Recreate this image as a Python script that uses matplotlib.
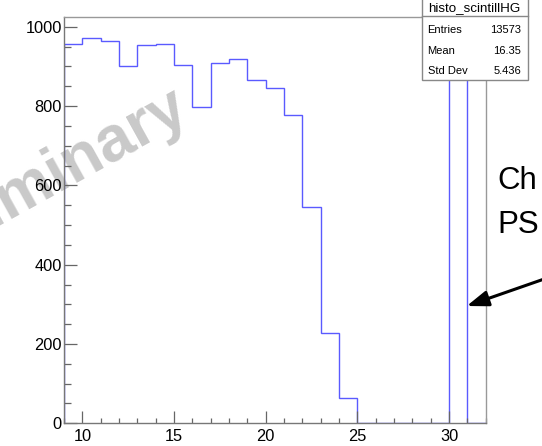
import numpy as np
import matplotlib.pyplot as plt
from matplotlib.patches import Rectangle, FancyArrowPatch
from matplotlib.ticker import MultipleLocator

plt.rcParams['font.family'] = ['Liberation Sans', 'DejaVu Sans']

# histogram contents (bin width 1, from 9 to 32)
bin_edges = np.arange(9, 33)
counts = [957, 972, 965, 901, 954, 957, 903, 798, 908, 920, 865, 846,
          777, 546, 227, 64, 0, 0, 0, 0, 0, 990, 0]

hist_name = "histo_scintillHG"
stats_labels = ["Entries", "Mean", "Std Dev"]
stats_values = ["13573", "16.35", "5.436"]

W, H = 542, 446
fig = plt.figure(figsize=(W / 100, H / 100), dpi=100)
fig.patch.set_facecolor('white')

def px(x, y):
    # pixel position (from top-left) -> figure fraction
    return x / W, 1 - y / H

# watermark behind everything
wx, wy = px(192, 117)
fig.text(wx, wy, "Preliminary", fontsize=46, fontweight='bold', color='#c9c9c9',
         rotation=29, rotation_mode='anchor', ha='right', va='baseline', zorder=-5)

x0, y0 = px(64, 423.3)
x1, y1 = px(485.8, 17.3)
ax = fig.add_axes([x0, y0, x1 - x0, y1 - y0])
ax.set_facecolor('none')

ax.stairs(counts, bin_edges, baseline=0, color='#5a5aff', linewidth=1.0)

ax.set_xlim(9, 32)
ax.set_ylim(0, 1024)
ax.xaxis.set_major_locator(MultipleLocator(5))
ax.xaxis.set_minor_locator(MultipleLocator(1))
ax.yaxis.set_major_locator(MultipleLocator(200))
ax.yaxis.set_minor_locator(MultipleLocator(50))

for s in ax.spines.values():
    s.set_color('#999999')
    s.set_linewidth(1.0)
ax.spines['left'].set_color('#777777')
ax.spines['bottom'].set_color('#777777')

ax.tick_params(axis='both', which='both', direction='in', colors='#666666',
               labelcolor='black', labelsize=11.8, width=0.9)
ax.tick_params(axis='y', which='major', length=9.6, pad=1.5)
ax.tick_params(axis='y', which='minor', length=5.0)
ax.tick_params(axis='x', which='major', length=8.4, pad=4)
ax.tick_params(axis='x', which='minor', length=3.8)

# stats box
bl, bt = 421.7, -2
br, bb = 527.7, 80
bx0, by0 = px(bl, bb)
bx1, by1 = px(br, bt)
fig.add_artist(Rectangle((bx0, by0), bx1 - bx0, by1 - by0, transform=fig.transFigure,
                         facecolor='white', edgecolor='#888888', linewidth=1.0, zorder=10))
_, sy = px(bl, 15.7)
fig.add_artist(plt.Line2D([bx0, bx1], [sy, sy], transform=fig.transFigure,
                          color='#888888', linewidth=1.0, zorder=11))
tx, ty = px((bl + br) / 2, 8.5)
fig.text(tx, ty, hist_name, fontsize=9.6, ha='center', va='center', zorder=12)
for i, (lab, val) in enumerate(zip(stats_labels, stats_values)):
    yy = 30 + i * 20.5
    lx, ly = px(427.5, yy)
    rx, _ = px(521, yy)
    fig.text(lx, ly, lab, fontsize=8, ha='left', va='center', zorder=12)
    fig.text(rx, ly, val, fontsize=8, ha='right', va='center', zorder=12)

# annotation text and arrow
cx, cy = px(497, 189.3)
fig.text(cx, cy, "Ch", fontsize=22.5, ha='left', va='baseline')
cx, cy = px(497, 233)
fig.text(cx, cy, "PS", fontsize=22.5, ha='left', va='baseline')

fig.add_artist(FancyArrowPatch(px(560, 273.5), px(466.7, 306), transform=fig.transFigure,
                               arrowstyle='-|>,head_length=13,head_width=4.7',
                               mutation_scale=1, color='black', linewidth=2.2,
                               shrinkA=0, shrinkB=0, zorder=12))

fig.savefig('out.png', dpi=100)
